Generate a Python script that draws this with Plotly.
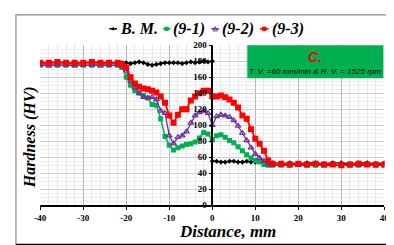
import plotly.graph_objects as go

W, H = 394, 245

# ---------------- data ----------------
dist_weld = ([-40, -38, -36, -34, -32, -30, -28, -26, -24, -22]
             + list(range(-21, 15))
             + [16, 18, 20, 22, 24, 26, 28, 30, 32, 34, 36, 38, 40])

hv_9_3 = ([178, 178, 179, 178, 178, 178, 179, 178, 178, 178]
          + [176, 172, 160, 152, 148, 146, 145, 143, 141, 136, 128, 112, 103, 113, 120, 120,
             131, 136, 140, 143, 143, 136, 136, 137, 135, 132, 128, 122, 112, 108, 95, 83,
             77, 68, 56, 52]
          + [52, 51, 52, 51, 52, 51, 51, 50, 51, 52, 51, 51, 51])

hv_9_1 = ([175, 176, 175, 175, 176, 175, 175, 176, 175, 175]
          + [172, 160, 150, 143, 140, 137, 134, 126, 125, 108, 86, 75, 69, 72, 74, 76,
             77, 79, 84, 91, 89, 82, 87, 88, 85, 81, 78, 73, 68, 63, 59, 56,
             54, 51, 50, 50]
          + [50, 50, 51, 50, 50, 50, 51, 50, 50, 50, 51, 50, 50])

hv_9_2 = ([175, 174, 175, 175, 174, 175, 175, 174, 175, 175]
          + [173, 168, 155, 147, 140, 135, 134, 135, 132, 118, 115, 87, 77, 85, 87, 92,
             103, 112, 116, 118, 115, 100, 111, 113, 112, 110, 106, 99, 90, 81, 72, 64,
             59, 55, 51, 50]
          + [50, 51, 50, 50, 51, 50, 50, 51, 50, 50, 50, 51, 50])

dist_bm = ([-40, -38, -36, -34, -32, -30, -28, -26, -24, -22]
           + list(range(-21, 1))
           + list(range(0, 11))
           + [12, 14, 16, 18, 20, 22, 24, 26, 28, 30, 32, 34, 36, 38, 40])
hv_bm = ([178] * 10
         + [178, 178, 177, 178, 179, 178, 176, 175, 176, 177, 178, 178, 178, 178, 177,
            178, 179, 178, 179, 180, 179, 180]
         + [55, 55, 54, 54, 55, 55, 54, 54, 55, 54, 54]
         + [53, 53, 52, 53, 52, 53, 53, 52, 53, 53, 52, 53, 53, 52, 53])

series_names = ["B. M.", "(9-1)", "(9-2)", "(9-3)"]
x_ticks = [-40, -30, -20, -10, 0, 10, 20, 30, 40]
x_tick_labels = ["-40", "-30", "-20", "-10", "0", "10", "20", "30", "40"]
y_ticks = [0, 20, 40, 60, 80, 100, 120, 140, 160, 180, 200]
y_tick_labels = ["0", "20", "40", "60", "80", "100", "120", "140", "160", "180", "200"]

# ---------------- styles ----------------
C_BM, C_G, C_P, C_R = "#000000", "#00B050", "#7030A0", "#FF0000"
SERIF = "Liberation Serif"


def px(x):
    return x / W


def py(y):
    return 1 - y / H


fig = go.Figure()
fig.add_trace(go.Scatter(x=dist_bm, y=hv_bm, mode="lines+markers", name=series_names[0],
                         line=dict(color=C_BM, width=1.3),
                         marker=dict(symbol="diamond", size=4, color=C_BM)))
fig.add_trace(go.Scatter(x=dist_weld, y=hv_9_1, mode="lines+markers", name=series_names[1],
                         line=dict(color=C_G, width=1.5),
                         marker=dict(symbol="square", size=5, color=C_G)))
fig.add_trace(go.Scatter(x=dist_weld, y=hv_9_2, mode="lines+markers", name=series_names[2],
                         line=dict(color=C_P, width=1.3),
                         marker=dict(symbol="triangle-up-open", size=5, color=C_P,
                                     line=dict(width=1.2))))
fig.add_trace(go.Scatter(x=dist_weld, y=hv_9_3, mode="lines+markers", name=series_names[3],
                         line=dict(color=C_R, width=1.8),
                         marker=dict(symbol="square", size=6, color=C_R)))

x0, x1 = 27, 381
y_bot, y_top = 200.5, 33.5

tick_font = dict(family=SERIF, size=9, color="black")
fig.update_layout(
    width=W, height=H,
    margin=dict(l=0, r=0, t=0, b=0),
    paper_bgcolor="white", plot_bgcolor="white",
    showlegend=False,
    xaxis=dict(domain=[px(x0), px(x1)], range=[-40, 40], tickvals=x_ticks,
               ticktext=[f"<b>{t}</b>" for t in x_tick_labels],
               showgrid=True, gridcolor="#b8b8b8", gridwidth=1,
               minor=dict(dtick=2, showgrid=True, gridcolor="#e6e6e6", gridwidth=1),
               showline=True, linecolor="black", linewidth=2,
               ticks="outside", ticklen=3, tickcolor="black",
               tickfont=tick_font, zeroline=False),
    yaxis=dict(domain=[py(y_bot), py(y_top)], range=[0, 200], tickvals=y_ticks,
               ticktext=[f"<b>{t}</b>" for t in y_tick_labels],
               anchor="free", position=px(204),
               showgrid=True, gridcolor="#d0d0d0", gridwidth=1,
               minor=dict(dtick=5, showgrid=True, gridcolor="#ececec", gridwidth=1),
               showline=True, linecolor="black", linewidth=1.5,
               ticks="outside", ticklen=3, tickcolor="black",
               tickfont=tick_font, zeroline=False),
)

shapes = []
# outer frame
shapes.append(dict(type="rect", xref="paper", yref="paper", x0=px(2), x1=px(391.5),
                   y0=py(241.5), y1=py(2), line=dict(color="#8c8c8c", width=1.2)))
shapes.append(dict(type="line", xref="paper", yref="paper", x0=px(391.5), x1=px(391.5),
                   y0=py(242), y1=py(2), line=dict(color="black", width=2)))
shapes.append(dict(type="line", xref="paper", yref="paper", x0=px(2), x1=px(392),
                   y0=py(241.5), y1=py(241.5), line=dict(color="black", width=2)))
# green info box
shapes.append(dict(type="rect", xref="paper", yref="paper", x0=px(240), x1=px(380),
                   y0=py(68), y1=py(33.5), fillcolor="#00B050",
                   line=dict(color="#00B050", width=0)))

# legend glyphs
ly = 16.5
leg = [(98, 106, C_BM, "diamond"), (153, 161, C_G, "square"),
       (203, 211, C_P, "triangle"), (253, 262, C_R, "square")]
for xa, xb, col, sym in leg:
    shapes.append(dict(type="line", xref="paper", yref="paper", x0=px(xa), x1=px(xb),
                       y0=py(ly), y1=py(ly), line=dict(color=col, width=1.5)))
    cx = (xa + xb) / 2
    if sym == "square":
        s = 2.2
        shapes.append(dict(type="rect", xref="paper", yref="paper", x0=px(cx - s), x1=px(cx + s),
                           y0=py(ly + s), y1=py(ly - s), fillcolor=col, line=dict(width=0)))
    elif sym == "diamond":
        s = 2
        path = (f"M {px(cx)},{py(ly - s)} L {px(cx + s)},{py(ly)} "
                f"L {px(cx)},{py(ly + s)} L {px(cx - s)},{py(ly)} Z")
        shapes.append(dict(type="path", xref="paper", yref="paper", path=path,
                           fillcolor=col, line=dict(width=0)))
    else:
        s = 2.2
        path = (f"M {px(cx)},{py(ly - s)} L {px(cx + s)},{py(ly + s)} "
                f"L {px(cx - s)},{py(ly + s)} Z")
        shapes.append(dict(type="path", xref="paper", yref="paper", path=path,
                           line=dict(color=col, width=1)))
fig.update_layout(shapes=shapes)

ann = []
for (xa, xb, col, sym), name in zip(leg, series_names):
    ann.append(dict(x=px(xb + 1), y=py(ly), xref="paper", yref="paper", xanchor="left",
                    yanchor="middle", showarrow=False, text=name,
                    font=dict(family=SERIF, size=16, weight="bold", style="italic",
                              color="black")))
ann.append(dict(x=px(310), y=py(46), xref="paper", yref="paper", showarrow=False,
                text="C.", xanchor="center", yanchor="middle",
                font=dict(family="Liberation Sans", size=14, weight="bold", style="italic",
                          color="#FF0000")))
ann.append(dict(x=px(310), y=py(61), xref="paper", yref="paper", showarrow=False,
                text="T. V. =60 mm/min & R. V. = 1525 rpm", xanchor="center",
                yanchor="middle",
                font=dict(family="Liberation Sans", size=8, style="italic", color="black")))
ann.append(dict(x=px(16), y=py(130), xref="paper", yref="paper", showarrow=False,
                text="Hardness (HV)", textangle=-90, xanchor="center", yanchor="middle",
                font=dict(family=SERIF, size=16, weight="bold", style="italic",
                          color="black")))
ann.append(dict(x=px(220), y=py(228), xref="paper", yref="paper", showarrow=False,
                text="Distance, mm", xanchor="center", yanchor="middle",
                font=dict(family=SERIF, size=17, weight="bold", style="italic",
                          color="black")))
fig.update_layout(annotations=ann)

fig.write_html("out.html")
